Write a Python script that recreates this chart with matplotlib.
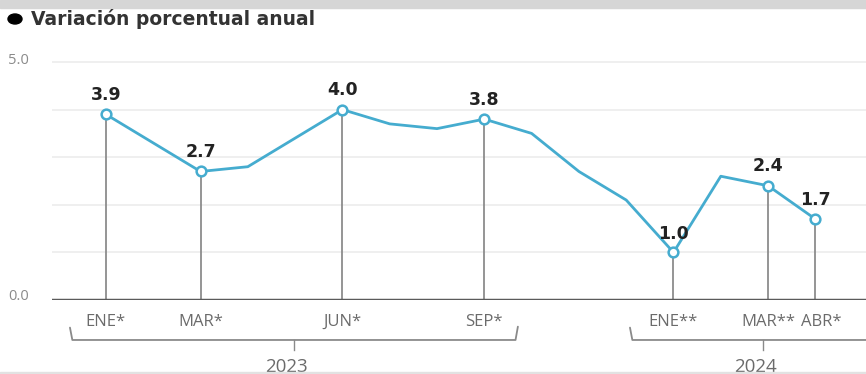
import matplotlib
matplotlib.use("Agg")
import matplotlib.pyplot as plt
from matplotlib.patches import Ellipse, Rectangle

# datos: variacion porcentual anual, ene 2023 - abr 2024
meses = list(range(16))
valores = [3.9, 3.3, 2.7, 2.8, 3.4, 4.0, 3.7, 3.6, 3.8, 3.5, 2.7, 2.1, 1.0, 2.6, 2.4, 1.7]
marcados = [0, 2, 5, 8, 12, 14, 15]
etiquetas = ["ENE*", "MAR*", "JUN*", "SEP*", "ENE**", "MAR**", "ABR*"]
anios = ["2023", "2024"]
grupos = [[0, 2, 5, 8], [12, 14, 15]]

plt.rcParams['font.family'] = ['Open Sans', 'DejaVu Sans']

fig = plt.figure(figsize=(8.66, 3.74), dpi=100)
ax = fig.add_axes([52/866, 74/374, 814/866, 255/374])
ax.set_xlim(-1.14, 16.07)
ax.set_ylim(0, 5.357)
ax.axis('off')

# franjas grises arriba y abajo
fig.patches.append(Rectangle((0, 366/374), 1, 8/374, transform=fig.transFigure,
                             color='#d6d6d6', zorder=0))
fig.patches.append(Rectangle((0, 0), 1, 2/374, transform=fig.transFigure,
                             color='#e2e2e2', zorder=0))

# titulo
fig.patches.append(Ellipse((15/866, 1 - 19/374), 14/866, 10/374,
                           transform=fig.transFigure, color='black'))
fig.text(31/866, 1 - 19/374, "Variación porcentual anual", fontsize=13.5,
         fontweight='semibold', color='#333333', va='center', ha='left',
         family='DejaVu Sans')

# rejilla
for g in range(1, 6):
    ax.axhline(g, color='#ececec', lw=1.2, zorder=1)
fig.text(8/866, 1 - 60/374, "5.0", fontsize=10.5, color='#8a8a8a', va='center')
fig.text(8/866, 1 - 297/374, "0.0", fontsize=10.5, color='#8a8a8a', va='center')

# lineas verticales a los meses marcados
for m in marcados:
    ax.plot([m, m], [0, valores[m]], color='#8c8c8c', lw=1.3, zorder=2)

ax.axhline(0, color='#5a5a5a', lw=2.5, zorder=3)

ax.plot(meses, valores, color='#45accf', lw=2, zorder=4)
ax.plot(marcados, [valores[m] for m in marcados], 'o', ms=7, mfc='white',
        mec='#45accf', mew=1.8, zorder=5)

for m in marcados:
    dy = 0.22 if m != 12 else 0.2
    ax.text(m, valores[m] + dy, f"{valores[m]:.1f}", ha='center', va='bottom',
            fontsize=12.5, fontweight='bold', color='#222222', zorder=6,
            family='DejaVu Sans')

for m, lab in zip(marcados, etiquetas):
    if m == marcados[-1]:
        # la ultima etiqueta va corrida a la derecha, como en el original
        ax.text(m - 0.3, -0.46, lab, ha='left', va='center', fontsize=12,
                color='#6b6b6b', clip_on=False)
    else:
        ax.text(m, -0.46, lab, ha='center', va='center', fontsize=12,
                color='#6b6b6b', clip_on=False)

# llaves de los anios
for anio, g, fin in zip(anios, grupos, [grupos[0][-1] + 0.71, 16.7]):
    ini = g[0] - (0.76 if anio == "2023" else 0.92)
    yb = -0.84
    ax.plot([ini, ini + 0.05, fin - 0.05, fin], [yb + 0.26, yb, yb, yb + 0.28],
            color='#8a8a8a', lw=1.3, clip_on=False, solid_capstyle='round')
    c = (ini + fin) / 2
    ax.plot([c, c], [yb, yb - 0.2], color='#8a8a8a', lw=1, clip_on=False)
    ax.text(c - 0.15, -1.4, anio, ha='center', va='center', fontsize=13.5,
            color='#6b6b6b', clip_on=False)

fig.savefig("out.png", dpi=100, facecolor='white')
